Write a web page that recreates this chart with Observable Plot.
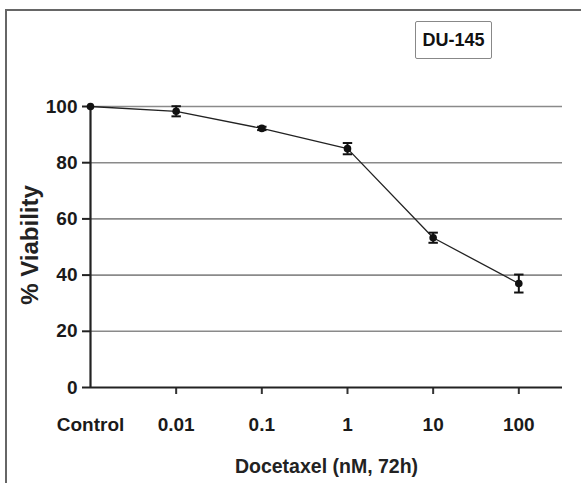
<!DOCTYPE html>
<html>
<head>
<meta charset="utf-8">
<script src="https://cdn.jsdelivr.net/npm/d3@7"></script>
<script src="https://cdn.jsdelivr.net/npm/@observablehq/plot@0.6"></script>
<style>
  html, body { margin: 0; padding: 0; background: #fff; }
  #wrap { position: relative; width: 581px; height: 483px; overflow: hidden; }
  #frame { position: absolute; left: 5px; top: 9px; width: 600px; height: 500px;
           border-left: 2px solid #666; border-top: 2px solid #666; box-sizing: border-box; }
  #chart { position: absolute; left: 0; top: 0; }
  #legend { position: absolute; left: 415px; top: 21px; width: 77px; height: 38px;
            border: 1.5px solid #888; box-sizing: border-box; border-radius: 2px;
            font: bold 18px "Liberation Sans", Arial, sans-serif; color: #111;
            display: flex; align-items: center; justify-content: center; }
</style>
</head>
<body>
<div id="wrap">
  <div id="frame"></div>
  <div id="chart"></div>
  <div id="legend">DU-145</div>
</div>
<script>
// Data
const doseLabels = ["Control", "0.01", "0.1", "1", "10", "100"];
const viability = [100, 98.3, 92.2, 85.0, 53.3, 37.0];
const errors = [0, 1.8, 0.6, 2.0, 1.8, 3.2];
const yTicks = [0, 20, 40, 60, 80, 100];
const gridValues = [20, 40, 60, 80, 100];
const xTitle = "Docetaxel (nM, 72h)";
const yTitle = "% Viability";

const data = doseLabels.map((d, i) => ({i, label: d, v: viability[i], e: errors[i]}));
const idx = doseLabels.map((d, i) => i);
const withErr = data.filter(d => d.e > 0);
const capHalf = 0.055;

const font = '"Liberation Sans", Arial, Helvetica, sans-serif';

const chart = Plot.plot({
  width: 581,
  height: 483,
  marginLeft: 90,
  marginRight: 19,
  marginTop: 106,
  marginBottom: 96,
  style: {fontFamily: font, fontSize: "19px", color: "#111", background: "transparent", overflow: "visible"},
  x: {type: "linear", domain: [0, 5.51], axis: null},
  y: {domain: [0, 100], axis: null},
  marks: [
    Plot.ruleY(gridValues, {stroke: "#8a8a8a", strokeWidth: 1.6}),
    Plot.axisY(yTicks, {label: null, tickSize: 8, tickPadding: 5, tickFormat: d => d, stroke: "#222", strokeWidth: 2,
      fontWeight: "bold", fontSize: 19, fill: "#1a1a1a"}),
    Plot.axisX(idx.slice(1), {label: null, tickSize: 7, tickFormat: () => "", stroke: "#333", strokeWidth: 2}),
    Plot.axisX(idx, {label: null, tickSize: 0, tickPadding: 30, tickFormat: i => doseLabels[i],
      fontWeight: "bold", fontSize: 19, fill: "#1a1a1a"}),
    Plot.ruleX([0], {stroke: "#222", strokeWidth: 2.2}),
    Plot.ruleY([0], {stroke: "#222", strokeWidth: 2.2}),
    Plot.line(data, {x: "i", y: "v", stroke: "#222", strokeWidth: 1.3}),
    Plot.ruleX(withErr, {x: "i", y1: d => d.v - d.e, y2: d => d.v + d.e, stroke: "#111", strokeWidth: 2}),
    Plot.link(withErr, {x1: d => d.i - capHalf, x2: d => d.i + capHalf, y1: d => d.v + d.e, y2: d => d.v + d.e, stroke: "#111", strokeWidth: 2}),
    Plot.link(withErr, {x1: d => d.i - capHalf, x2: d => d.i + capHalf, y1: d => d.v - d.e, y2: d => d.v - d.e, stroke: "#111", strokeWidth: 2}),
    Plot.dot(data, {x: "i", y: "v", r: 3.8, fill: "#111", stroke: "none"}),
    Plot.text([xTitle], {frameAnchor: "bottom", dy: 79, lineAnchor: "middle", textAnchor: "middle", text: d => d,
      fontSize: 19.5, fontWeight: "bold", fill: "#222"}),
    Plot.text([yTitle], {frameAnchor: "left", dx: -60, dy: -2, rotate: -90, textAnchor: "middle", lineAnchor: "middle",
      text: d => d, fontSize: 24, fontWeight: "bold", fill: "#222"})
  ]
});

document.getElementById("chart").appendChild(chart);
</script>
</body>
</html>
